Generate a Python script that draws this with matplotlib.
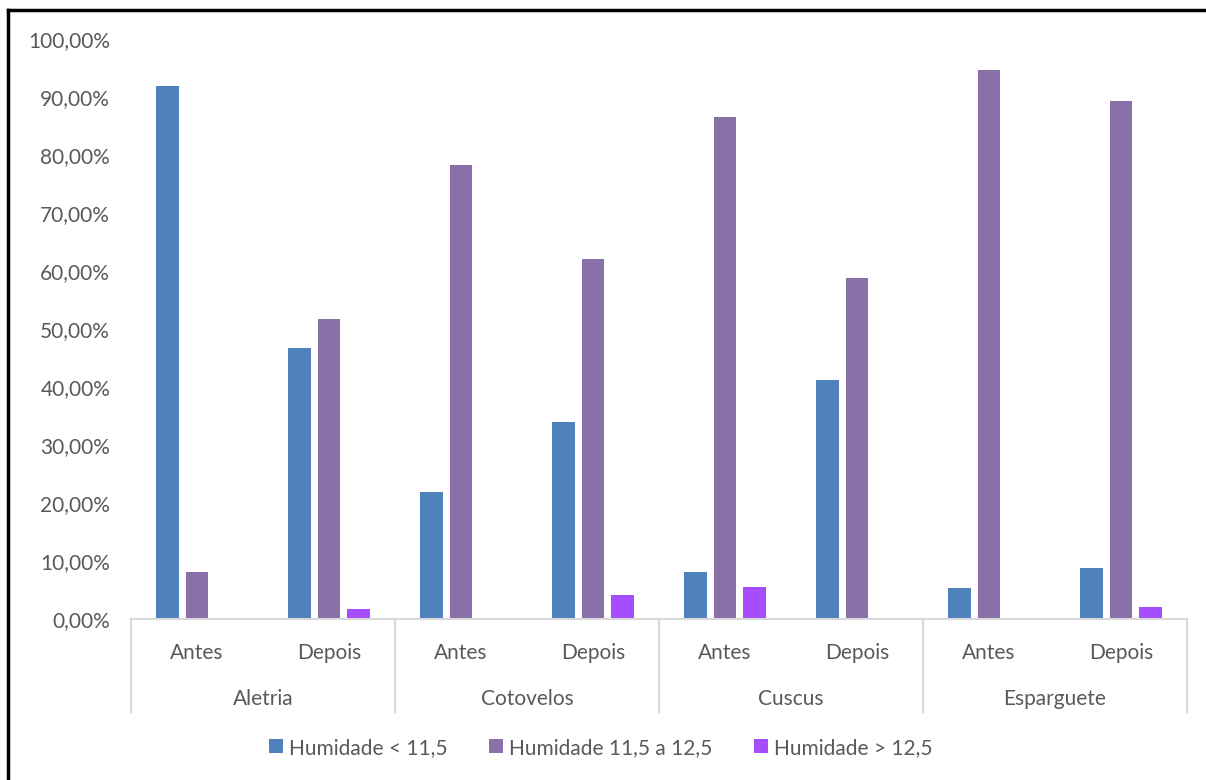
import numpy as np
import matplotlib.pyplot as plt
from matplotlib.lines import Line2D
from matplotlib.ticker import FuncFormatter

# humidity distribution per pasta type, before/after
produtos = ['Aletria', 'Cotovelos', 'Cuscus', 'Esparguete']
fases = ['Antes', 'Depois']
series_nomes = ['Humidade < 11,5', 'Humidade 11,5 a 12,5', 'Humidade > 12,5']

hum_baixa = [0.919, 0.467, 0.219, 0.340, 0.081, 0.412, 0.053, 0.088]
hum_media = [0.081, 0.517, 0.783, 0.621, 0.866, 0.588, 0.947, 0.893]
hum_alta = [0.0, 0.017, 0.0, 0.041, 0.055, 0.0, 0.0, 0.021]

cores = ['#4F81BD', '#8A70A8', '#A64DFF']
texto = '#595959'
linha = '#D9D9D9'
fs = 15

plt.rcParams['font.family'] = ['Lato', 'DejaVu Sans']

fig = plt.figure(figsize=(12.06, 7.80), dpi=100)
ax = fig.add_axes([131 / 1206, 1 - 619 / 780, 1056 / 1206, 580 / 780])

x = np.arange(len(hum_baixa))
largura = 0.174
desvio = 0.22
for i, (vals, nome) in enumerate(zip([hum_baixa, hum_media, hum_alta], series_nomes)):
    ax.bar(x + (i - 1) * desvio, vals, largura, color=cores[i], label=nome, zorder=2)

ax.set_xlim(-0.5, len(x) - 0.5)
ax.set_ylim(0, 1)
ax.set_yticks(np.arange(0, 1.01, 0.1))
ax.yaxis.set_major_formatter(FuncFormatter(lambda v, p: f'{v * 100:.2f}%'.replace('.', ',')))

for s in ['top', 'right', 'left']:
    ax.spines[s].set_visible(False)
ax.spines['bottom'].set_color(linha)
ax.spines['bottom'].set_linewidth(1.5)

ax.tick_params(axis='y', length=0, labelsize=fs, labelcolor=texto, pad=15)
ax.set_xticks(x)
ax.set_xticklabels(fases * len(produtos))
ax.tick_params(axis='x', length=0, labelsize=fs, labelcolor=texto, pad=17)

# group dividers and second level labels
trans = ax.get_xaxis_transform()
for b in np.arange(-0.5, len(x), 2):
    ax.plot([b, b], [0, -0.16], color=linha, lw=1.5, transform=trans, clip_on=False)
for j, p in enumerate(produtos):
    ax.text(2 * j + 0.5, -0.138, p, transform=trans, ha='center', va='center',
            fontsize=fs, color=texto)

ax.legend(loc='center', bbox_to_anchor=(0.445, -0.222), ncol=3, frameon=False,
          fontsize=fs, labelcolor=texto, handlelength=0.65, handleheight=0.65,
          handletextpad=0.3, columnspacing=2.0)

# chart border
fig.add_artist(Line2D([8 / 1206, 8 / 1206], [0, 1 - 10 / 780], color='black', lw=2.5))
fig.add_artist(Line2D([8 / 1206, 1], [1 - 10 / 780, 1 - 10 / 780], color='black', lw=2.5))

fig.savefig('out.png', dpi=100)
